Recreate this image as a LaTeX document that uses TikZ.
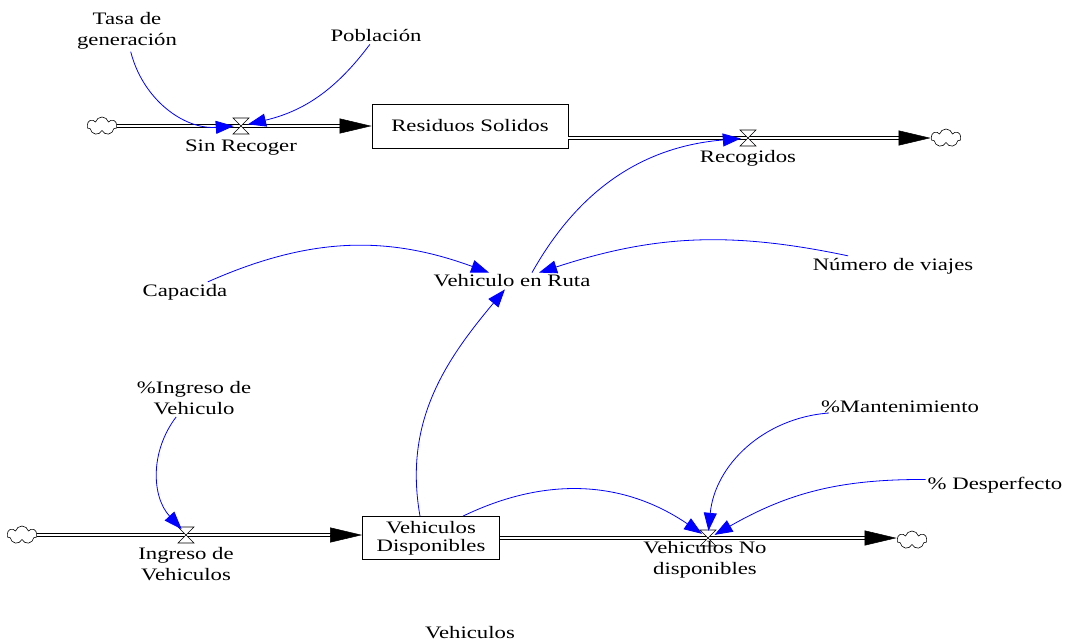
\documentclass[tikz,border=0pt]{standalone}
\usepackage{fontspec}
\setmainfont{Liberation Serif}[FakeStretch=1.3]
\usetikzlibrary{arrows.meta,shapes.symbols,positioning}

\tikzset{
    lbl/.style={font=\fontsize{17.5}{21}\selectfont, align=center, inner sep=2pt},
    stock/.style={draw, line width=0.8pt, font=\fontsize{17.5}{18}\selectfont, align=center},
    src/.style={cloud, cloud puffs=7, aspect=1.8, draw, line width=0.6pt,
        minimum width=30, minimum height=18, inner sep=0pt},
    valvept/.style={circle, minimum size=14, inner sep=0pt},
    valve/.pic={\draw[line width=0.6pt, fill=white] (-8,8) -- (8,8) -- (-8,-8) -- (8,-8) -- cycle;},
    pipe/.style={double, double distance=2.4pt, line width=0.8pt},
    flowtip/.style={-{Triangle[length=32pt,width=15pt]}, line width=0.5pt},
    link/.style={blue, line width=0.8pt, -{Triangle[length=18pt,width=13pt]}}
}

\begin{document}
\begin{tikzpicture}[x=1pt,y=1pt]
    \useasboundingbox (0,0) rectangle (1067,-642);

    % stocks and clouds
    \node[stock, minimum width=196, minimum height=44] (rs) at (470,-126) {Residuos Solidos};
    \node[stock, minimum width=137, minimum height=43] (disp) at (431,-538) {Vehiculos\\Disponibles};
    \node[src] (c1) at (102,-126) {};
    \node[src] (c2) at (946,-138) {};
    \node[src] (c3) at (22,-535) {};
    \node[src] (c4) at (912,-540) {};

    % valves
    \node[valvept] (v1) at (241,-126) {};
    \node[valvept] (v2) at (748,-138) {};
    \node[valvept] (v3) at (708,-538) {};
    \node[valvept] (v4) at (186,-535) {};

    % pipes
    \draw[pipe, shorten >=30pt] (c1.east) -- (c1.east -| rs.west);
    \draw[flowtip] ([xshift=-32pt]c1.east -| rs.west) -- (c1.east -| rs.west);
    \draw[pipe, shorten >=30pt] (rs.east |- v2) -- (c2.west |- v2);
    \draw[flowtip] ([xshift=-32pt]c2.west |- v2) -- (c2.west |- v2);
    \draw[pipe, shorten >=30pt] (c3.east) -- (c3.east -| disp.west);
    \draw[flowtip] ([xshift=-32pt]c3.east -| disp.west) -- (c3.east -| disp.west);
    \draw[pipe, shorten >=30pt] (disp.east |- v3) -- (c4.west |- v3);
    \draw[flowtip] ([xshift=-32pt]c4.west |- v3) -- (c4.west |- v3);

    \foreach \v in {v1,v2,v3,v4} \pic at (\v) {valve};

    % flow labels
    \node[lbl, below=5pt of v1] (sinrec) {Sin Recoger};
    \node[lbl, below=3pt of v2] (recog) {Recogidos};
    \node[lbl, below=3pt of v4] (ingveh) {Ingreso de\\Vehiculos};
    \node[lbl] (vnodisp) at (705,-560) {Vehiculos No\\disponibles};

    % auxiliaries
    \node[lbl] (tasa) at (127,-31) {Tasa de\\generación};
    \node[lbl] (pobl) at (376,-36) {Población};
    \node[lbl] (capac) at (185,-292) {Capacida};
    \node[lbl] (ruta) at (512,-281) {Vehiculo en Ruta};
    \node[lbl] (viajes) at (893,-266) {Número de viajes};
    \node[lbl] (pingr) at (194,-398) {\%Ingreso de\\Vehiculo};
    \node[lbl] (pmant) at (900,-407) {\%Mantenimiento};
    \node[lbl] (pdesp) at (995,-485) {\% Desperfecto};
    \node[lbl] (vehic) at (470,-633) {Vehiculos};

    % links
    \draw[link] (tasa) to[bend right=40] (v1);
    \draw[link] (pobl) to[bend left=20] (v1);
    \draw[link] ([xshift=20pt]ruta.north) to[bend left=28] (v2);
    \draw[link] (capac) to[bend left=22] (ruta);
    \draw[link] (viajes) to[bend right=15] (ruta);
    \draw[link] (disp.north) ++(-11,0) coordinate (dsrc) (dsrc) to[out=100,in=-130] (ruta);
    \draw[link] ([xshift=32pt]disp.north) to[bend left=30] (v3);
    \draw[link] ([shift={(10pt,-6pt)}]pmant.west) coordinate (msrc) (msrc) to[bend right=40] (v3);
    \draw[link] (pdesp) to[bend right=15] (v3);
    \draw[link] (pingr) to[bend right=40] (v4);
\end{tikzpicture}
\end{document}
